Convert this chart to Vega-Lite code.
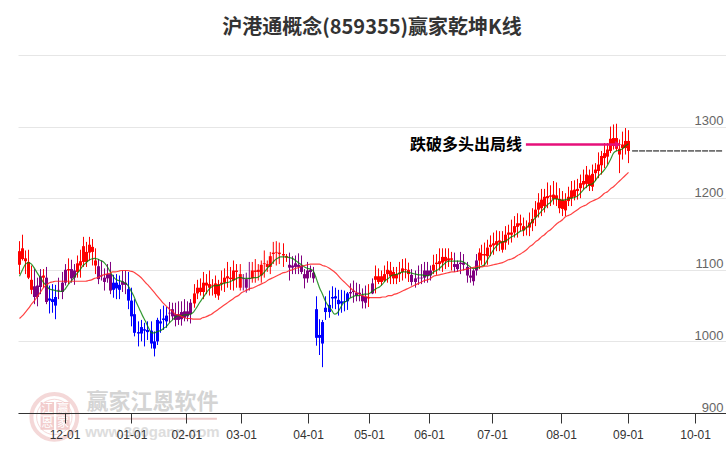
{
"$schema":"https://vega.github.io/schema/vega-lite/v6.json",
"width":708,"height":358,
"autosize":{"type":"none"},
"padding":{"left":18,"top":55,"right":0,"bottom":37},
"background":"white",
"title":{"text":"沪港通概念(859355)赢家乾坤K线","font":"Noto Sans CJK SC","fontSize":20,"fontWeight":"bold","color":"#333333","anchor":"middle","frame":"group","offset":17},
"config":{"view":{"stroke":null}},
"datasets":{
"bars":[
{"t":0,"k":"up","o":1107,"c":1126,"h":1140,"l":1094},
{"t":1,"k":"up","o":1115,"c":1130,"h":1149,"l":1113},
{"t":2,"k":"up","o":1112,"c":1116,"h":1127,"l":1094},
{"t":3,"k":"up","o":1089,"c":1111,"h":1128,"l":1087},
{"t":4,"k":"up","o":1072,"c":1086,"h":1106,"l":1066},
{"t":5,"k":"mix","o":1062,"c":1077,"h":1101,"l":1052},
{"t":6,"k":"mix","o":1062,"c":1078,"h":1089,"l":1049},
{"t":7,"k":"mix","o":1076,"c":1091,"h":1101,"l":1066},
{"t":8,"k":"up","o":1089,"c":1092,"h":1101,"l":1075},
{"t":9,"k":"mix","o":1055,"c":1089,"h":1104,"l":1052},
{"t":10,"k":"down","o":1060,"c":1057,"h":1078,"l":1039},
{"t":11,"k":"down","o":1059,"c":1055,"h":1080,"l":1040},
{"t":12,"k":"down","o":1062,"c":1050,"h":1079,"l":1031},
{"t":13,"k":"mix","o":1071,"c":1072,"h":1089,"l":1059},
{"t":14.33,"k":"mix","o":1069,"c":1082,"h":1097,"l":1059},
{"t":15.33,"k":"mix","o":1082,"c":1100,"h":1108,"l":1078},
{"t":16.33,"k":"up","o":1099,"c":1101,"h":1116,"l":1080},
{"t":17.33,"k":"mix","o":1088,"c":1101,"h":1114,"l":1082},
{"t":18.33,"k":"mix","o":1089,"c":1099,"h":1108,"l":1079},
{"t":19.33,"k":"up","o":1097,"c":1109,"h":1120,"l":1089},
{"t":20.33,"k":"up","o":1106,"c":1112,"h":1128,"l":1089},
{"t":21.33,"k":"up","o":1111,"c":1133,"h":1146,"l":1104},
{"t":22.33,"k":"up","o":1111,"c":1125,"h":1139,"l":1104},
{"t":23.33,"k":"up","o":1124,"c":1135,"h":1146,"l":1113},
{"t":24.33,"k":"up","o":1125,"c":1132,"h":1143,"l":1106},
{"t":25.33,"k":"up","o":1106,"c":1113,"h":1130,"l":1094},
{"t":26.33,"k":"mix","o":1087,"c":1105,"h":1115,"l":1080},
{"t":27.33,"k":"mix","o":1091,"c":1092,"h":1113,"l":1085},
{"t":28.33,"k":"mix","o":1083,"c":1089,"h":1102,"l":1071},
{"t":29.33,"k":"mix","o":1088,"c":1094,"h":1108,"l":1082},
{"t":30.33,"k":"mix","o":1071,"c":1094,"h":1111,"l":1066},
{"t":31.33,"k":"down","o":1082,"c":1072,"h":1093,"l":1061},
{"t":32.33,"k":"down","o":1082,"c":1074,"h":1094,"l":1059},
{"t":33.33,"k":"down","o":1079,"c":1072,"h":1092,"l":1059},
{"t":34.33,"k":"mix","o":1079,"c":1084,"h":1099,"l":1069},
{"t":35.33,"k":"mix","o":1079,"c":1082,"h":1099,"l":1066},
{"t":36.33,"k":"down","o":1073,"c":1057,"h":1097,"l":1045},
{"t":37.33,"k":"down","o":1057,"c":1035,"h":1075,"l":1021},
{"t":38.33,"k":"down","o":1038,"c":1012,"h":1059,"l":1007},
{"t":39.67,"k":"down","o":1013,"c":1011,"h":1028,"l":993},
{"t":40.67,"k":"down","o":1020,"c":1011,"h":1030,"l":1000},
{"t":41.67,"k":"down","o":1017,"c":1015,"h":1026,"l":993},
{"t":42.67,"k":"down","o":1016,"c":1013,"h":1028,"l":1002},
{"t":44,"k":"down","o":1015,"c":997,"h":1028,"l":990},
{"t":45,"k":"down","o":1000,"c":990,"h":1014,"l":979},
{"t":46,"k":"down","o":1030,"c":1000,"h":1033,"l":995},
{"t":47,"k":"down","o":1028,"c":1025,"h":1045,"l":1012},
{"t":48,"k":"down","o":1032,"c":1030,"h":1050,"l":1016},
{"t":49,"k":"down","o":1036,"c":1028,"h":1048,"l":1019},
{"t":50,"k":"mix","o":1039,"c":1040,"h":1055,"l":1026},
{"t":51,"k":"mix","o":1035,"c":1045,"h":1054,"l":1030},
{"t":52,"k":"mix","o":1030,"c":1038,"h":1054,"l":1021},
{"t":53,"k":"mix","o":1030,"c":1038,"h":1056,"l":1023},
{"t":54,"k":"mix","o":1031,"c":1041,"h":1056,"l":1022},
{"t":55,"k":"mix","o":1033,"c":1042,"h":1059,"l":1028},
{"t":56,"k":"mix","o":1035,"c":1042,"h":1056,"l":1028},
{"t":57,"k":"mix","o":1038,"c":1054,"h":1059,"l":1025},
{"t":58.33,"k":"up","o":1053,"c":1067,"h":1080,"l":1047},
{"t":59.33,"k":"up","o":1067,"c":1075,"h":1086,"l":1059},
{"t":60.33,"k":"up","o":1069,"c":1075,"h":1088,"l":1064},
{"t":61.33,"k":"up","o":1069,"c":1082,"h":1097,"l":1059},
{"t":62.33,"k":"up","o":1078,"c":1082,"h":1094,"l":1066},
{"t":63.33,"k":"up","o":1075,"c":1080,"h":1099,"l":1064},
{"t":64.33,"k":"up","o":1078,"c":1079,"h":1087,"l":1064},
{"t":65.33,"k":"up","o":1066,"c":1081,"h":1092,"l":1061},
{"t":66.33,"k":"up","o":1064,"c":1080,"h":1086,"l":1058},
{"t":67.33,"k":"up","o":1080,"c":1082,"h":1099,"l":1071},
{"t":68.33,"k":"up","o":1082,"c":1089,"h":1102,"l":1069},
{"t":69.33,"k":"up","o":1088,"c":1091,"h":1111,"l":1075},
{"t":70.33,"k":"up","o":1087,"c":1089,"h":1104,"l":1072},
{"t":71.33,"k":"up","o":1085,"c":1099,"h":1113,"l":1071},
{"t":72.33,"k":"up","o":1097,"c":1099,"h":1108,"l":1075},
{"t":73.6,"k":"up","o":1075,"c":1094,"h":1108,"l":1071},
{"t":74.6,"k":"mix","o":1087,"c":1088,"h":1094,"l":1071},
{"t":75.6,"k":"mix","o":1075,"c":1087,"h":1096,"l":1068},
{"t":76.6,"k":"mix","o":1087,"c":1088,"h":1111,"l":1071},
{"t":77.6,"k":"up","o":1088,"c":1099,"h":1111,"l":1082},
{"t":78.6,"k":"up","o":1097,"c":1099,"h":1115,"l":1082},
{"t":79.6,"k":"up","o":1097,"c":1100,"h":1108,"l":1085},
{"t":80.6,"k":"up","o":1092,"c":1107,"h":1113,"l":1082},
{"t":81.6,"k":"up","o":1108,"c":1109,"h":1127,"l":1089},
{"t":82.6,"k":"up","o":1104,"c":1108,"h":1113,"l":1097},
{"t":83.6,"k":"up","o":1104,"c":1119,"h":1125,"l":1094},
{"t":84.6,"k":"up","o":1122,"c":1124,"h":1139,"l":1108},
{"t":85.6,"k":"up","o":1124,"c":1125,"h":1140,"l":1106},
{"t":86.6,"k":"up","o":1122,"c":1124,"h":1138,"l":1108},
{"t":88,"k":"up","o":1120,"c":1122,"h":1137,"l":1104},
{"t":89,"k":"up","o":1117,"c":1119,"h":1122,"l":1111},
{"t":90,"k":"mix","o":1103,"c":1107,"h":1124,"l":1085},
{"t":91,"k":"mix","o":1103,"c":1106,"h":1119,"l":1094},
{"t":92,"k":"mix","o":1104,"c":1109,"h":1120,"l":1094},
{"t":93,"k":"mix","o":1104,"c":1107,"h":1123,"l":1094},
{"t":94,"k":"mix","o":1097,"c":1106,"h":1120,"l":1094},
{"t":95,"k":"mix","o":1088,"c":1094,"h":1101,"l":1074},
{"t":96,"k":"mix","o":1088,"c":1099,"h":1111,"l":1082},
{"t":97,"k":"mix","o":1097,"c":1100,"h":1106,"l":1089},
{"t":98,"k":"mix","o":1088,"c":1096,"h":1104,"l":1082},
{"t":99,"k":"down","o":1045,"c":1005,"h":1063,"l":994},
{"t":100,"k":"down","o":1009,"c":1005,"h":1031,"l":981},
{"t":101,"k":"down","o":1027,"c":997,"h":1030,"l":964},
{"t":102,"k":"down","o":1047,"c":1041,"h":1063,"l":1030},
{"t":103.33,"k":"down","o":1051,"c":1041,"h":1071,"l":1033},
{"t":104.33,"k":"down","o":1062,"c":1060,"h":1077,"l":1046},
{"t":105.33,"k":"down","o":1063,"c":1060,"h":1075,"l":1045},
{"t":106.33,"k":"down","o":1058,"c":1052,"h":1072,"l":1036},
{"t":107.33,"k":"down","o":1056,"c":1053,"h":1072,"l":1040},
{"t":108.33,"k":"down","o":1056,"c":1055,"h":1071,"l":1042},
{"t":109.33,"k":"down","o":1067,"c":1056,"h":1069,"l":1044},
{"t":110.33,"k":"mix","o":1067,"c":1069,"h":1081,"l":1061},
{"t":111.33,"k":"mix","o":1069,"c":1071,"h":1085,"l":1054},
{"t":112.33,"k":"mix","o":1064,"c":1068,"h":1082,"l":1056},
{"t":113.33,"k":"mix","o":1066,"c":1068,"h":1080,"l":1056},
{"t":114.33,"k":"mix","o":1056,"c":1064,"h":1074,"l":1046},
{"t":115.33,"k":"mix","o":1054,"c":1062,"h":1078,"l":1046},
{"t":116.33,"k":"up","o":1060,"c":1062,"h":1080,"l":1048},
{"t":117.67,"k":"mix","o":1067,"c":1081,"h":1088,"l":1066},
{"t":118.67,"k":"up","o":1086,"c":1091,"h":1106,"l":1067},
{"t":119.67,"k":"up","o":1083,"c":1091,"h":1102,"l":1080},
{"t":120.67,"k":"up","o":1083,"c":1091,"h":1099,"l":1078},
{"t":121.67,"k":"up","o":1085,"c":1094,"h":1106,"l":1083},
{"t":122.67,"k":"up","o":1094,"c":1100,"h":1112,"l":1082},
{"t":123.67,"k":"up","o":1091,"c":1099,"h":1111,"l":1080},
{"t":124.67,"k":"up","o":1088,"c":1097,"h":1104,"l":1080},
{"t":125.67,"k":"up","o":1088,"c":1094,"h":1104,"l":1080},
{"t":126.67,"k":"up","o":1094,"c":1096,"h":1111,"l":1083},
{"t":127.67,"k":"up","o":1097,"c":1102,"h":1115,"l":1085},
{"t":128.67,"k":"up","o":1100,"c":1101,"h":1116,"l":1088},
{"t":129.67,"k":"up","o":1094,"c":1100,"h":1110,"l":1083},
{"t":130.67,"k":"mix","o":1083,"c":1093,"h":1101,"l":1078},
{"t":132,"k":"mix","o":1083,"c":1088,"h":1099,"l":1075},
{"t":133,"k":"mix","o":1088,"c":1089,"h":1106,"l":1079},
{"t":134,"k":"mix","o":1088,"c":1089,"h":1108,"l":1080},
{"t":135,"k":"mix","o":1089,"c":1099,"h":1111,"l":1082},
{"t":136,"k":"mix","o":1091,"c":1099,"h":1111,"l":1082},
{"t":137,"k":"mix","o":1092,"c":1099,"h":1106,"l":1085},
{"t":138,"k":"up","o":1099,"c":1107,"h":1121,"l":1094},
{"t":139,"k":"up","o":1108,"c":1110,"h":1122,"l":1093},
{"t":140,"k":"up","o":1108,"c":1112,"h":1130,"l":1099},
{"t":141,"k":"up","o":1110,"c":1118,"h":1130,"l":1097},
{"t":142,"k":"up","o":1112,"c":1118,"h":1130,"l":1101},
{"t":143,"k":"up","o":1113,"c":1116,"h":1130,"l":1104},
{"t":144,"k":"up","o":1114,"c":1116,"h":1125,"l":1099},
{"t":145,"k":"mix","o":1104,"c":1108,"h":1124,"l":1097},
{"t":146,"k":"mix","o":1101,"c":1108,"h":1113,"l":1097},
{"t":147,"k":"mix","o":1108,"c":1110,"h":1125,"l":1094},
{"t":148,"k":"mix","o":1107,"c":1110,"h":1122,"l":1099},
{"t":149.33,"k":"mix","o":1092,"c":1104,"h":1111,"l":1082},
{"t":150.33,"k":"mix","o":1089,"c":1092,"h":1104,"l":1082},
{"t":151.33,"k":"mix","o":1084,"c":1099,"h":1101,"l":1078},
{"t":152.33,"k":"mix","o":1099,"c":1113,"h":1122,"l":1092},
{"t":153.33,"k":"up","o":1113,"c":1124,"h":1130,"l":1101},
{"t":154,"k":"up","o":1120,"c":1122,"h":1135,"l":1107},
{"t":155,"k":"up","o":1120,"c":1122,"h":1138,"l":1105},
{"t":156,"k":"up","o":1119,"c":1131,"h":1142,"l":1107},
{"t":157,"k":"up","o":1132,"c":1135,"h":1148,"l":1119},
{"t":158,"k":"up","o":1134,"c":1137,"h":1152,"l":1121},
{"t":159,"k":"up","o":1135,"c":1140,"h":1155,"l":1126},
{"t":160,"k":"up","o":1138,"c":1141,"h":1154,"l":1126},
{"t":161,"k":"up","o":1128,"c":1140,"h":1154,"l":1124},
{"t":162,"k":"up","o":1138,"c":1149,"h":1161,"l":1128},
{"t":163,"k":"up","o":1149,"c":1152,"h":1163,"l":1135},
{"t":164,"k":"up","o":1149,"c":1152,"h":1170,"l":1138},
{"t":165,"k":"up","o":1152,"c":1161,"h":1175,"l":1145},
{"t":166,"k":"up","o":1160,"c":1165,"h":1179,"l":1145},
{"t":167,"k":"up","o":1162,"c":1165,"h":1177,"l":1154},
{"t":168,"k":"up","o":1155,"c":1161,"h":1173,"l":1147},
{"t":169,"k":"up","o":1159,"c":1160,"h":1169,"l":1148},
{"t":170,"k":"up","o":1159,"c":1166,"h":1180,"l":1147},
{"t":171,"k":"up","o":1165,"c":1171,"h":1186,"l":1154},
{"t":172,"k":"up","o":1173,"c":1184,"h":1196,"l":1161},
{"t":173,"k":"up","o":1184,"c":1194,"h":1207,"l":1173},
{"t":174,"k":"up","o":1186,"c":1198,"h":1213,"l":1175},
{"t":175,"k":"up","o":1189,"c":1202,"h":1213,"l":1180},
{"t":176,"k":"up","o":1200,"c":1203,"h":1222,"l":1186},
{"t":177,"k":"up","o":1202,"c":1204,"h":1218,"l":1189},
{"t":178,"k":"up","o":1199,"c":1205,"h":1224,"l":1191},
{"t":179,"k":"up","o":1199,"c":1204,"h":1222,"l":1189},
{"t":180,"k":"up","o":1186,"c":1199,"h":1214,"l":1179},
{"t":181,"k":"up","o":1185,"c":1198,"h":1210,"l":1175},
{"t":182,"k":"up","o":1183,"c":1197,"h":1207,"l":1175},
{"t":183,"k":"up","o":1196,"c":1202,"h":1216,"l":1189},
{"t":184,"k":"up","o":1200,"c":1211,"h":1224,"l":1189},
{"t":185,"k":"up","o":1202,"c":1212,"h":1225,"l":1197},
{"t":186,"k":"up","o":1210,"c":1213,"h":1227,"l":1198},
{"t":187,"k":"up","o":1214,"c":1221,"h":1233,"l":1200},
{"t":188,"k":"up","o":1219,"c":1224,"h":1240,"l":1212},
{"t":189,"k":"up","o":1220,"c":1233,"h":1245,"l":1214},
{"t":190,"k":"up","o":1217,"c":1232,"h":1240,"l":1210},
{"t":191,"k":"up","o":1216,"c":1234,"h":1247,"l":1210},
{"t":192,"k":"up","o":1235,"c":1240,"h":1249,"l":1224},
{"t":193,"k":"up","o":1238,"c":1247,"h":1264,"l":1228},
{"t":194,"k":"up","o":1246,"c":1259,"h":1266,"l":1233},
{"t":195,"k":"up","o":1256,"c":1263,"h":1277,"l":1242},
{"t":196,"k":"up","o":1258,"c":1268,"h":1277,"l":1247},
{"t":197,"k":"up","o":1266,"c":1283,"h":1300,"l":1263},
{"t":198,"k":"up","o":1273,"c":1284,"h":1303,"l":1268},
{"t":199,"k":"up","o":1269,"c":1284,"h":1304,"l":1266},
{"t":200,"k":"up","o":1261,"c":1269,"h":1282,"l":1235},
{"t":201,"k":"up","o":1270,"c":1275,"h":1293,"l":1254},
{"t":202,"k":"up","o":1270,"c":1280,"h":1298,"l":1261},
{"t":203,"k":"up","o":1266,"c":1280,"h":1295,"l":1249}
],
"ma":[
{"t":0,"s":1091,"m":1032},{"t":1,"s":1100,"m":1036},{"t":2,"s":1108,"m":1041},{"t":3,"s":1110,"m":1046},{"t":4,"s":1108,"m":1052},{"t":5,"s":1102,"m":1057},{"t":6,"s":1095,"m":1063},{"t":7,"s":1089,"m":1069},{"t":8,"s":1082,"m":1075},{"t":9,"s":1078,"m":1079},
{"t":10,"s":1073,"m":1082},{"t":11,"s":1072,"m":1083},{"t":12,"s":1071,"m":1084},{"t":13,"s":1070,"m":1084},{"t":14,"s":1070,"m":1084},{"t":15,"s":1072,"m":1084},{"t":16,"s":1078,"m":1084},{"t":17,"s":1083,"m":1084},{"t":18,"s":1088,"m":1084},{"t":19,"s":1094,"m":1084},
{"t":20,"s":1099,"m":1084},{"t":21,"s":1105,"m":1084},{"t":22,"s":1109,"m":1084},{"t":23,"s":1113,"m":1085},{"t":24,"s":1115,"m":1086},{"t":25,"s":1116,"m":1088},{"t":26,"s":1115,"m":1089},{"t":27,"s":1113,"m":1091},{"t":28,"s":1111,"m":1093},{"t":29,"s":1106,"m":1094},
{"t":30,"s":1099,"m":1095},{"t":31,"s":1092,"m":1097},{"t":32,"s":1087,"m":1097},{"t":33,"s":1085,"m":1098},{"t":34,"s":1084,"m":1099},{"t":35,"s":1082,"m":1099},{"t":36,"s":1079,"m":1099},{"t":37,"s":1072,"m":1098},{"t":38,"s":1064,"m":1097},{"t":39,"s":1054,"m":1094},
{"t":40,"s":1045,"m":1091},{"t":41,"s":1036,"m":1087},{"t":42,"s":1028,"m":1082},{"t":43,"s":1019,"m":1078},{"t":44,"s":1012,"m":1073},{"t":45,"s":1012,"m":1068},{"t":46,"s":1014,"m":1063},{"t":47,"s":1015,"m":1058},{"t":48,"s":1018,"m":1053},{"t":49,"s":1021,"m":1049},
{"t":50,"s":1026,"m":1045},{"t":51,"s":1030,"m":1042},{"t":52,"s":1034,"m":1038},{"t":53,"s":1036,"m":1037},{"t":54,"s":1036,"m":1035},{"t":55,"s":1037,"m":1033},{"t":56,"s":1037,"m":1032},{"t":57,"s":1038,"m":1032},{"t":58,"s":1041,"m":1031},{"t":59,"s":1047,"m":1031},
{"t":60,"s":1054,"m":1031},{"t":61,"s":1060,"m":1033},{"t":62,"s":1066,"m":1034},{"t":63,"s":1072,"m":1036},{"t":64,"s":1076,"m":1038},{"t":65,"s":1078,"m":1041},{"t":66,"s":1078,"m":1044},{"t":67,"s":1079,"m":1047},{"t":68,"s":1081,"m":1050},{"t":69,"s":1082,"m":1053},
{"t":70,"s":1083,"m":1056},{"t":71,"s":1085,"m":1059},{"t":72,"s":1087,"m":1062},{"t":73,"s":1089,"m":1064},{"t":74,"s":1089,"m":1068},{"t":75,"s":1088,"m":1070},{"t":76,"s":1088,"m":1072},{"t":77,"s":1088,"m":1074},{"t":78,"s":1089,"m":1075},{"t":79,"s":1089,"m":1077},
{"t":80,"s":1091,"m":1079},{"t":81,"s":1094,"m":1081},{"t":82,"s":1099,"m":1083},{"t":83,"s":1104,"m":1086},{"t":84,"s":1108,"m":1088},{"t":85,"s":1113,"m":1090},{"t":86,"s":1116,"m":1092},{"t":87,"s":1118,"m":1094},{"t":88,"s":1118,"m":1096},{"t":89,"s":1118,"m":1097},
{"t":90,"s":1117,"m":1099},{"t":91,"s":1116,"m":1100},{"t":92,"s":1113,"m":1102},{"t":93,"s":1110,"m":1103},{"t":94,"s":1107,"m":1105},{"t":95,"s":1104,"m":1106},{"t":96,"s":1102,"m":1107},{"t":97,"s":1101,"m":1108},{"t":98,"s":1098,"m":1108},{"t":99,"s":1087,"m":1108},
{"t":100,"s":1075,"m":1108},{"t":101,"s":1066,"m":1106},{"t":102,"s":1056,"m":1105},{"t":103,"s":1049,"m":1103},{"t":104,"s":1044,"m":1100},{"t":105,"s":1038,"m":1097},{"t":106,"s":1040,"m":1093},{"t":107,"s":1047,"m":1088},{"t":108,"s":1054,"m":1084},{"t":109,"s":1056,"m":1080},
{"t":110,"s":1060,"m":1076},{"t":111,"s":1062,"m":1072},{"t":112,"s":1064,"m":1069},{"t":113,"s":1064,"m":1067},{"t":114,"s":1065,"m":1064},{"t":115,"s":1066,"m":1063},{"t":116,"s":1066,"m":1062},{"t":117,"s":1068,"m":1061},{"t":118,"s":1071,"m":1061},{"t":119,"s":1074,"m":1061},
{"t":120,"s":1076,"m":1061},{"t":121,"s":1080,"m":1062},{"t":122,"s":1085,"m":1062},{"t":123,"s":1088,"m":1064},{"t":124,"s":1092,"m":1064},{"t":125,"s":1093,"m":1066},{"t":126,"s":1094,"m":1067},{"t":127,"s":1096,"m":1069},{"t":128,"s":1097,"m":1071},{"t":129,"s":1097,"m":1073},
{"t":130,"s":1096,"m":1075},{"t":131,"s":1095,"m":1077},{"t":132,"s":1094,"m":1079},{"t":133,"s":1093,"m":1081},{"t":134,"s":1093,"m":1083},{"t":135,"s":1092,"m":1085},{"t":136,"s":1092,"m":1086},{"t":137,"s":1093,"m":1088},{"t":138,"s":1097,"m":1091},{"t":139,"s":1099,"m":1092},
{"t":140,"s":1102,"m":1093},{"t":141,"s":1106,"m":1094},{"t":142,"s":1110,"m":1095},{"t":143,"s":1112,"m":1096},{"t":144,"s":1112,"m":1097},{"t":145,"s":1112,"m":1097},{"t":146,"s":1112,"m":1098},{"t":147,"s":1112,"m":1099},{"t":148,"s":1111,"m":1100},{"t":149,"s":1108,"m":1101},
{"t":150,"s":1105,"m":1102},{"t":151,"s":1102,"m":1103},{"t":152,"s":1102,"m":1104},{"t":153,"s":1103,"m":1105},{"t":154,"s":1105,"m":1104},{"t":155,"s":1107,"m":1105},{"t":156,"s":1114,"m":1105},{"t":157,"s":1121,"m":1106},{"t":158,"s":1128,"m":1107},{"t":159,"s":1133,"m":1108},
{"t":160,"s":1137,"m":1109},{"t":161,"s":1139,"m":1110},{"t":162,"s":1140,"m":1112},{"t":163,"s":1143,"m":1114},{"t":164,"s":1146,"m":1115},{"t":165,"s":1148,"m":1117},{"t":166,"s":1151,"m":1120},{"t":167,"s":1154,"m":1122},{"t":168,"s":1155,"m":1125},{"t":169,"s":1159,"m":1128},
{"t":170,"s":1163,"m":1132},{"t":171,"s":1168,"m":1135},{"t":172,"s":1173,"m":1139},{"t":173,"s":1177,"m":1142},{"t":174,"s":1182,"m":1146},{"t":175,"s":1186,"m":1149},{"t":176,"s":1191,"m":1153},{"t":177,"s":1194,"m":1156},{"t":178,"s":1199,"m":1160},{"t":179,"s":1199,"m":1164},
{"t":180,"s":1198,"m":1167},{"t":181,"s":1197,"m":1170},{"t":182,"s":1198,"m":1174},{"t":183,"s":1199,"m":1176},{"t":184,"s":1200,"m":1178},{"t":185,"s":1201,"m":1181},{"t":186,"s":1203,"m":1184},{"t":187,"s":1207,"m":1187},{"t":188,"s":1212,"m":1189},{"t":189,"s":1216,"m":1191},
{"t":190,"s":1219,"m":1194},{"t":191,"s":1220,"m":1196},{"t":192,"s":1225,"m":1198},{"t":193,"s":1231,"m":1200},{"t":194,"s":1235,"m":1203},{"t":195,"s":1240,"m":1207},{"t":196,"s":1246,"m":1209},{"t":197,"s":1254,"m":1213},{"t":198,"s":1263,"m":1216},{"t":199,"s":1266,"m":1220},
{"t":200,"s":1267,"m":1224},{"t":201,"s":1269,"m":1228},{"t":202,"s":1273,"m":1232},{"t":203,"s":1276,"m":1236}
]
},
"layer":[
{"data":{"values":[{"t":11.6,"y":894.5}]},"mark":{"type":"point","filled":false,"stroke":"#f0c8c8","strokeWidth":4,"size":2100,"clip":false},"encoding":{"x":{"field":"t","type":"quantitative","scale":{"domain":[-0.5,235.5],"nice":false,"zero":false},"axis":{"title":null,"values":[15,37.33,55.6,73.9,96.2,116.5,136.5,157.5,180.5,202.8,225.2],"labelExpr":"['12-01','01-01','02-01','03-01','04-01','05-01','06-01','07-01','08-01','09-01','10-01'][indexof([15,37.33,55.6,73.9,96.2,116.5,136.5,157.5,180.5,202.8,225.2],datum.value)]","grid":false,"domainColor":"#333333","tickColor":"#333333","tickSize":10,"labelColor":"#333333","labelFontSize":12,"labelFont":"Liberation Sans","labelPadding":6,"labelFlush":false,"zindex":1}},"y":{"field":"y","type":"quantitative","scale":{"domain":[900,1400],"nice":false,"zero":false},"axis":{"title":null,"orient":"right","values":[900,1000,1100,1200,1300,1400],"labelExpr":"datum.value==1400?'':datum.label","format":"d","grid":true,"gridColor":"#e6e6e6","domain":false,"ticks":false,"labelAlign":"right","labelBaseline":"bottom","labelPadding":-3,"labelColor":"#666666","labelFontSize":13,"labelFont":"Liberation Sans","labelOffset":1}}}},
{"data":{"values":[{"t":11.6,"y":894.5}]},"mark":{"type":"point","filled":false,"stroke":"#f0c8c8","strokeWidth":1,"size":1250,"clip":false},"encoding":{"x":{"field":"t","type":"quantitative"},"y":{"field":"y","type":"quantitative"}}},
{"data":{"values":[{"t":9.27,"y":906,"c":"江"},{"t":14.5,"y":906,"c":"赢"},{"t":9.27,"y":886,"c":"恩"},{"t":14.5,"y":886,"c":"家"}]},"layer":[
{"mark":{"type":"square","size":180,"color":"#f0c4c4","opacity":0.85,"clip":false},"encoding":{"x":{"field":"t","type":"quantitative"},"y":{"field":"y","type":"quantitative"}}},
{"mark":{"type":"text","font":"Noto Sans CJK SC","fontSize":12,"color":"#ffffff","clip":false},"encoding":{"x":{"field":"t","type":"quantitative"},"y":{"field":"y","type":"quantitative"},"text":{"field":"c"}}}
]},
{"data":{"values":[{"t":44.3,"y":915,"w":"赢家江恩软件"}]},"mark":{"type":"text","font":"Noto Sans CJK SC","fontSize":22,"fontWeight":"bold","color":"#d4d4d4","clip":false},"encoding":{"x":{"field":"t","type":"quantitative"},"y":{"field":"y","type":"quantitative"},"text":{"field":"w"}}},
{"data":{"values":[{"t":44.3,"y":874,"w":"www.360gann.com"}]},"mark":{"type":"text","font":"Liberation Sans","fontSize":15,"fontWeight":"bold","color":"#dddddd","clip":false},"encoding":{"x":{"field":"t","type":"quantitative"},"y":{"field":"y","type":"quantitative"},"text":{"field":"w"}}},
{"data":{"values":[{"t":22.8,"t2":65.8,"y":892}]},"mark":{"type":"rule","stroke":"#eccaca","strokeWidth":2,"clip":false},"encoding":{"x":{"field":"t","type":"quantitative"},"x2":{"field":"t2"},"y":{"field":"y","type":"quantitative"}}},
{"data":{"name":"bars"},"mark":{"type":"rule","strokeWidth":1},"encoding":{"x":{"field":"t","type":"quantitative"},"y":{"field":"l","type":"quantitative"},"y2":{"field":"h"},"color":{"field":"k","type":"nominal","legend":null,"scale":{"domain":["up","mix","down"],"range":["#ff0000","#800080","#0000ff"]}}}},
{"data":{"name":"bars"},"mark":{"type":"rule","strokeWidth":3},"encoding":{"x":{"field":"t","type":"quantitative"},"y":{"field":"o","type":"quantitative"},"y2":{"field":"c"},"color":{"field":"k","type":"nominal","legend":null,"scale":{"domain":["up","mix","down"],"range":["#ff0000","#800080","#0000ff"]}}}},
{"data":{"name":"ma"},"mark":{"type":"line","stroke":"#008000","strokeWidth":1.2,"opacity":0.8,"interpolate":"monotone"},"encoding":{"x":{"field":"t","type":"quantitative"},"y":{"field":"s","type":"quantitative"}}},
{"data":{"name":"ma"},"mark":{"type":"line","stroke":"#ff2020","strokeWidth":1.2,"opacity":0.85,"interpolate":"monotone"},"encoding":{"x":{"field":"t","type":"quantitative"},"y":{"field":"m","type":"quantitative"}}},
{"data":{"values":[{"t":168.8,"t2":199.5,"y":1275}]},"mark":{"type":"rule","stroke":"#e6107a","strokeWidth":2.6},"encoding":{"x":{"field":"t","type":"quantitative"},"x2":{"field":"t2"},"y":{"field":"y","type":"quantitative"}}},
{"data":{"values":[{"t":199.5,"y":1275}]},"mark":{"type":"point","shape":"triangle-right","filled":true,"color":"#e6107a","opacity":1,"size":50},"encoding":{"x":{"field":"t","type":"quantitative"},"y":{"field":"y","type":"quantitative"}}},
{"data":{"values":[{"t":204.2,"t2":234.2,"y":1266}]},"mark":{"type":"rule","stroke":"#000000","strokeWidth":1,"strokeDash":[6,1]},"encoding":{"x":{"field":"t","type":"quantitative"},"x2":{"field":"t2"},"y":{"field":"y","type":"quantitative"}}},
{"data":{"values":[{"t":167.5,"y":1275,"w":"跌破多头出局线"}]},"mark":{"type":"text","font":"Noto Sans CJK SC","fontSize":16,"fontWeight":"bold","color":"#000000","align":"right","baseline":"middle"},"encoding":{"x":{"field":"t","type":"quantitative"},"y":{"field":"y","type":"quantitative"},"text":{"field":"w"}}}
]
}
